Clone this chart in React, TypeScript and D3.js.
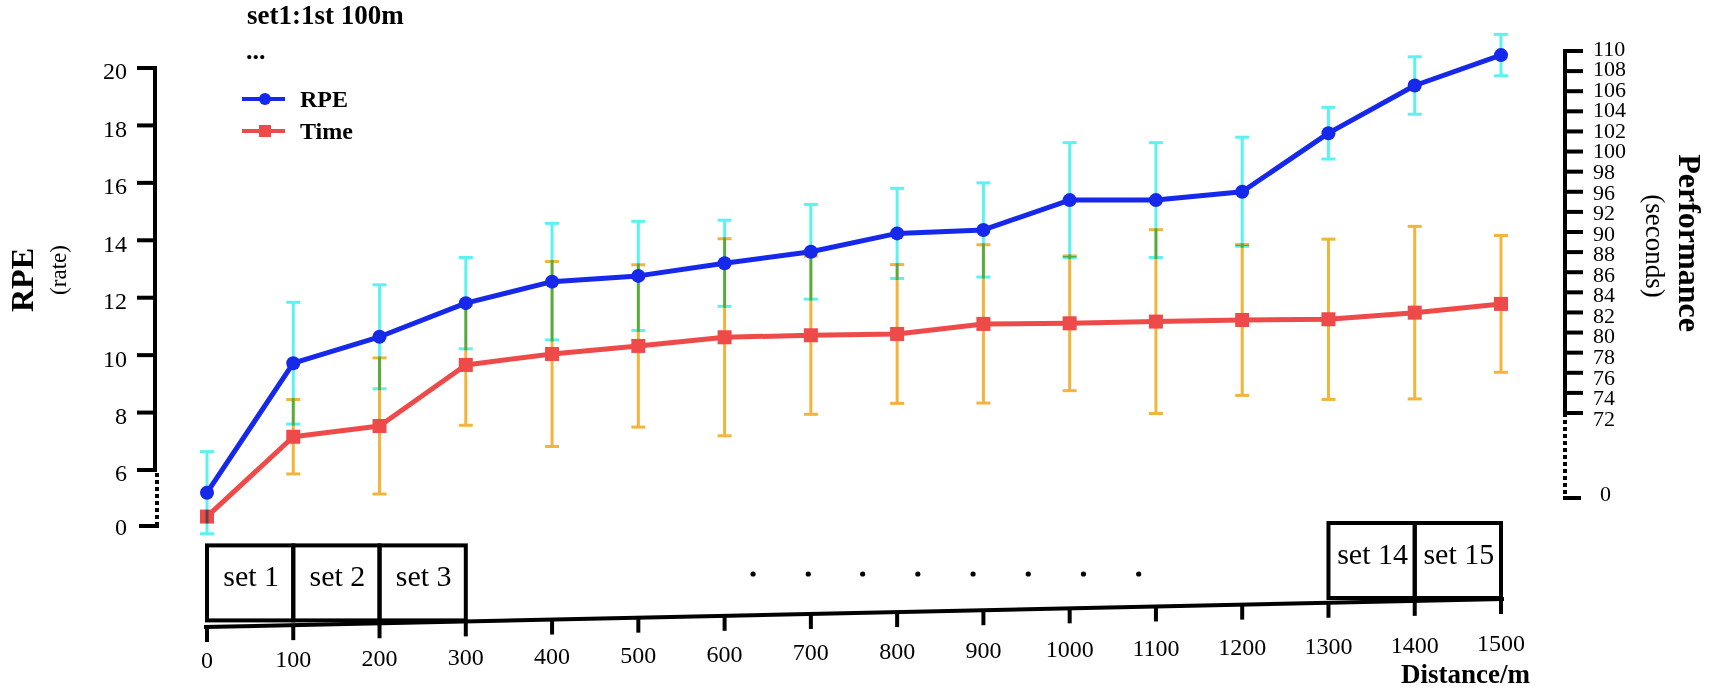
import { useEffect, useRef } from 'react';
import * as d3 from 'd3';

const distances = [0, 100, 200, 300, 400, 500, 600, 700, 800, 900, 1000, 1100, 1200, 1300, 1400, 1500];
const rpeMean = [5.21, 9.72, 10.64, 11.81, 12.56, 12.76, 13.2, 13.6, 14.24, 14.36, 15.4, 15.4, 15.69, 17.73, 19.39, 20.45];
const rpeSd = [1.43, 2.12, 1.81, 1.59, 2.03, 1.9, 1.5, 1.65, 1.57, 1.64, 2.0, 2.0, 1.9, 0.9, 1.0, 0.72];
const timeMean = [61.7, 69.64, 70.71, 76.78, 77.87, 78.67, 79.53, 79.73, 79.86, 80.86, 80.92, 81.09, 81.25, 81.32, 81.98, 82.85];
const timeSd = [0, 3.7, 6.77, 6.0, 9.2, 8.07, 9.8, 7.86, 6.9, 7.87, 6.7, 9.14, 7.5, 7.97, 8.58, 6.8];

const leftTicks = [6, 8, 10, 12, 14, 16, 18, 20];
const rightTickLabels = ['110', '108', '106', '104', '102', '100', '98', '96', '92', '90', '88', '86', '84', '82', '80', '78', '76', '74', '72'];

const sets = [
  { name: 'set 1', start: 0, end: 100, group: 0 },
  { name: 'set 2', start: 100, end: 200, group: 0 },
  { name: 'set 3', start: 200, end: 300, group: 0 },
  { name: 'set 14', start: 1300, end: 1400, group: 1 },
  { name: 'set 15', start: 1400, end: 1500, group: 1 },
];
const groupEnds = [300, 1500];
const gapDots = [633, 697, 760, 824, 888, 952, 1016, 1080];

const W = 1713;
const H = 690;
const FONT = '"Liberation Serif", "Times New Roman", serif';
const BLUE = '#1629ea';
const RED = '#ef4a4a';
const CYAN = '#5cf2f2';
const ORANGE = '#f2b43a';

export default function App() {
  const svgRef = useRef<SVGSVGElement>(null);

  useEffect(() => {
    if (!svgRef.current) return;
    const svg = d3.select(svgRef.current);
    svg.selectAll('*').remove();

    const x = d3.scaleLinear().domain([0, 1500]).range([207, 1501]);
    const yL = d3.scaleLinear().domain([6, 20]).range([470, 68]);
    const rTick = d3.scalePoint<string>().domain(rightTickLabels).range([51, 413]);
    const rLabel = d3.scalePoint<string>().domain(rightTickLabels).range([48, 418]);
    // time values share the evenly spaced lower ticks (72..92)
    const yR = d3.scaleLinear().domain([72, 92]).range([rTick('72')!, rTick('92')!]);
    // slanted distance baseline
    const axisY = d3.scaleLinear().domain([0, 1500]).range([627, 599]);
    const labelY = d3.scaleLinear().domain([0, 1500]).range([660, 643]);

    const leftX = 155;
    const rightX = 1565;

    // ---- left axis
    const la = svg.append('g');
    la.append('line')
      .attr('x1', leftX).attr('x2', leftX)
      .attr('y1', yL(20) - 2).attr('y2', yL(6) + 2)
      .attr('stroke', '#000').attr('stroke-width', 4);
    la.append('line')
      .attr('x1', leftX + 2).attr('x2', leftX + 2)
      .attr('y1', yL(6) + 3).attr('y2', yL(6) + 56)
      .attr('stroke', '#000').attr('stroke-width', 4)
      .attr('stroke-dasharray', '4,3');
    la.selectAll('.lt')
      .data(leftTicks)
      .enter().append('line')
      .attr('x1', leftX - 18).attr('x2', leftX + 2)
      .attr('y1', d => yL(d)).attr('y2', d => yL(d))
      .attr('stroke', '#000').attr('stroke-width', 4);
    la.selectAll('.ll')
      .data(leftTicks)
      .enter().append('text')
      .attr('x', 127)
      .attr('y', d => yL(d) + 3)
      .attr('dy', '0.35em')
      .attr('text-anchor', 'end')
      .style('font-family', FONT).style('font-size', '24px')
      .text(d => d);
    const zeroL = yL(6) + 56;
    la.append('line')
      .attr('x1', leftX - 16).attr('x2', leftX + 4)
      .attr('y1', zeroL).attr('y2', zeroL)
      .attr('stroke', '#000').attr('stroke-width', 4);
    la.append('text')
      .attr('x', 127).attr('y', zeroL + 1).attr('dy', '0.35em')
      .attr('text-anchor', 'end')
      .style('font-family', FONT).style('font-size', '24px')
      .text('0');
    la.append('text')
      .attr('transform', 'translate(22,280) rotate(-90)')
      .attr('text-anchor', 'middle').attr('dy', '0.35em')
      .style('font-family', FONT).style('font-size', '32px').style('font-weight', 'bold')
      .text('RPE');
    la.append('text')
      .attr('transform', 'translate(58,270) rotate(-90)')
      .attr('text-anchor', 'middle').attr('dy', '0.35em')
      .style('font-family', FONT).style('font-size', '23px')
      .text('(rate)');

    // ---- right axis
    const ra = svg.append('g');
    ra.append('line')
      .attr('x1', rightX).attr('x2', rightX)
      .attr('y1', rTick('110')! - 2).attr('y2', rTick('72')! + 4)
      .attr('stroke', '#000').attr('stroke-width', 4);
    ra.append('line')
      .attr('x1', rightX).attr('x2', rightX)
      .attr('y1', rTick('72')! + 7).attr('y2', rTick('72')! + 85)
      .attr('stroke', '#000').attr('stroke-width', 4)
      .attr('stroke-dasharray', '4,3');
    ra.selectAll('.rt')
      .data(rightTickLabels)
      .enter().append('line')
      .attr('x1', rightX - 2).attr('x2', rightX + 18)
      .attr('y1', d => rTick(d)!).attr('y2', d => rTick(d)!)
      .attr('stroke', '#000').attr('stroke-width', 4);
    ra.selectAll('.rl')
      .data(rightTickLabels)
      .enter().append('text')
      .attr('x', 1593)
      .attr('y', d => rLabel(d)!)
      .attr('dy', '0.35em')
      .style('font-family', FONT).style('font-size', '22px')
      .text(d => d);
    const zeroR = rTick('72')! + 85;
    ra.append('line')
      .attr('x1', rightX - 2).attr('x2', rightX + 16)
      .attr('y1', zeroR).attr('y2', zeroR)
      .attr('stroke', '#000').attr('stroke-width', 4);
    ra.append('text')
      .attr('x', 1600).attr('y', zeroR - 5).attr('dy', '0.35em')
      .style('font-family', FONT).style('font-size', '22px')
      .text('0');
    ra.append('text')
      .attr('transform', 'translate(1690,243) rotate(90)')
      .attr('text-anchor', 'middle').attr('dy', '0.35em')
      .style('font-family', FONT).style('font-size', '32px').style('font-weight', 'bold')
      .text('Performance');
    ra.append('text')
      .attr('transform', 'translate(1655,246) rotate(90)')
      .attr('text-anchor', 'middle').attr('dy', '0.35em')
      .style('font-family', FONT).style('font-size', '27px')
      .text('(seconds)');

    // ---- distance axis (slanted)
    const xa = svg.append('g');
    xa.append('line')
      .attr('x1', x(0) - 3).attr('y1', axisY(0))
      .attr('x2', x(1500) + 3).attr('y2', axisY(1500))
      .attr('stroke', '#000').attr('stroke-width', 4);
    xa.selectAll('.xt')
      .data(distances)
      .enter().append('line')
      .attr('x1', d => x(d)).attr('x2', d => x(d))
      .attr('y1', d => axisY(d)).attr('y2', d => axisY(d) + 15)
      .attr('stroke', '#000').attr('stroke-width', 4);
    xa.selectAll('.xl')
      .data(distances)
      .enter().append('text')
      .attr('x', d => x(d)).attr('y', d => labelY(d)).attr('dy', '0.35em')
      .attr('text-anchor', 'middle')
      .style('font-family', FONT).style('font-size', '24px')
      .text(d => d);
    xa.append('text')
      .attr('x', 1530).attr('y', 683)
      .attr('text-anchor', 'end')
      .style('font-family', FONT).style('font-size', '27px').style('font-weight', 'bold')
      .text('Distance/m');

    // set boxes
    const boxes = svg.append('g');
    const boxH = 75;
    sets.forEach(s => {
      const bottom = axisY(groupEnds[s.group]) - 1;
      boxes.append('rect')
        .attr('x', x(s.start)).attr('y', bottom - boxH)
        .attr('width', x(s.end) - x(s.start)).attr('height', boxH)
        .attr('fill', 'none').attr('stroke', '#000').attr('stroke-width', 4);
      boxes.append('text')
        .attr('x', (x(s.start) + x(s.end)) / 2 + 1).attr('y', bottom - 34)
        .attr('text-anchor', 'middle')
        .style('font-family', FONT).style('font-size', '30px')
        .text(s.name);
    });
    boxes.selectAll('.gd')
      .data(gapDots)
      .enter().append('circle')
      .attr('cx', d => x(d)).attr('cy', 574).attr('r', 2.6)
      .attr('fill', '#000');

    // ---- series
    const idx = d3.range(distances.length);
    const capW = 7;

    // time error bars (below everything)
    const tErr = svg.append('g').attr('stroke', ORANGE).attr('stroke-width', 3);
    idx.filter(i => timeSd[i] > 0).forEach(i => {
      const cx = x(distances[i]);
      const y1 = yR(timeMean[i] + timeSd[i]);
      const y2 = yR(timeMean[i] - timeSd[i]);
      tErr.append('line').attr('x1', cx).attr('x2', cx).attr('y1', y1).attr('y2', y2);
      tErr.append('line').attr('x1', cx - capW).attr('x2', cx + capW).attr('y1', y1).attr('y2', y1);
      tErr.append('line').attr('x1', cx - capW).attr('x2', cx + capW).attr('y1', y2).attr('y2', y2);
    });

    const timeLine = d3.line<number>()
      .x(i => x(distances[i]))
      .y(i => yR(timeMean[i]));
    svg.append('path')
      .attr('d', timeLine(idx) || '')
      .attr('fill', 'none').attr('stroke', RED).attr('stroke-width', 5)
      .attr('stroke-linejoin', 'round');
    svg.selectAll('.tp')
      .data(idx)
      .enter().append('rect')
      .attr('x', i => x(distances[i]) - 7).attr('y', i => yR(timeMean[i]) - 7)
      .attr('width', 14).attr('height', 14)
      .attr('fill', RED);

    // RPE error bars, multiplied over the rest
    const rErr = svg.append('g').attr('stroke', CYAN).attr('stroke-width', 3)
      .style('mix-blend-mode', 'multiply');
    idx.forEach(i => {
      const cx = x(distances[i]);
      const y1 = yL(rpeMean[i] + rpeSd[i]);
      const y2 = yL(rpeMean[i] - rpeSd[i]);
      rErr.append('line').attr('x1', cx).attr('x2', cx).attr('y1', y1).attr('y2', y2);
      rErr.append('line').attr('x1', cx - capW).attr('x2', cx + capW).attr('y1', y1).attr('y2', y1);
      rErr.append('line').attr('x1', cx - capW).attr('x2', cx + capW).attr('y1', y2).attr('y2', y2);
    });

    const rpeLine = d3.line<number>()
      .x(i => x(distances[i]))
      .y(i => yL(rpeMean[i]));
    svg.append('path')
      .attr('d', rpeLine(idx) || '')
      .attr('fill', 'none').attr('stroke', BLUE).attr('stroke-width', 5)
      .attr('stroke-linejoin', 'round');
    svg.selectAll('.rp')
      .data(idx)
      .enter().append('circle')
      .attr('cx', i => x(distances[i])).attr('cy', i => yL(rpeMean[i]))
      .attr('r', 7)
      .attr('fill', BLUE);

    // ---- title + legend
    svg.append('text')
      .attr('x', 247).attr('y', 24)
      .style('font-family', FONT).style('font-size', '27px').style('font-weight', 'bold')
      .text('set1:1st 100m');
    svg.append('text')
      .attr('x', 246).attr('y', 59)
      .style('font-family', FONT).style('font-size', '26px').style('font-weight', 'bold')
      .text('...');

    const legend = svg.append('g');
    const items = [
      { name: 'RPE', color: BLUE, y: 99, shape: 'circle' },
      { name: 'Time', color: RED, y: 131, shape: 'square' },
    ];
    items.forEach(it => {
      legend.append('line')
        .attr('x1', 242).attr('x2', 285).attr('y1', it.y).attr('y2', it.y)
        .attr('stroke', it.color).attr('stroke-width', 4);
      if (it.shape === 'circle') {
        legend.append('circle').attr('cx', 265).attr('cy', it.y).attr('r', 6).attr('fill', it.color);
      } else {
        legend.append('rect').attr('x', 259).attr('y', it.y - 6).attr('width', 12).attr('height', 12).attr('fill', it.color);
      }
      legend.append('text')
        .attr('x', 300).attr('y', it.y).attr('dy', '0.35em')
        .style('font-family', FONT).style('font-size', '24px').style('font-weight', 'bold')
        .text(it.name);
    });
  }, []);

  return (
    <svg
      ref={svgRef}
      width={W}
      height={H}
      style={{ position: 'absolute', left: 0, top: 0, background: '#fff' }}
    />
  );
}
